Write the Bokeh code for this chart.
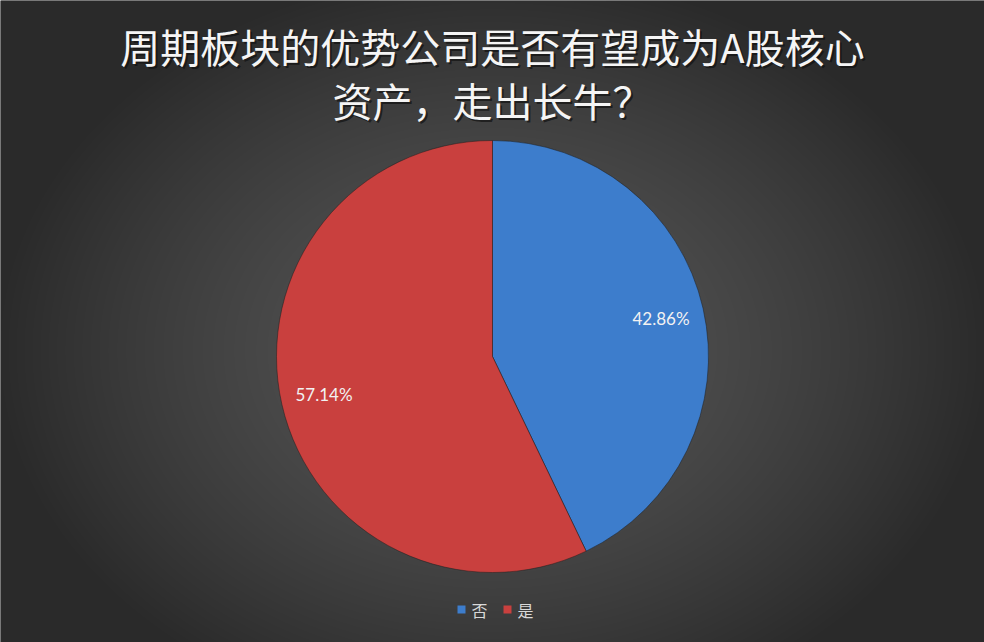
import numpy as np
from bokeh.plotting import figure
from bokeh.models import Range1d, ColumnDataSource
from bokeh.core.properties import value
from bokeh.embed import file_html
from bokeh.resources import INLINE

# ---- data ----
title_lines = ["周期板块的优势公司是否有望成为A股核心", "资产，走出长牛？"]
categories = ["否", "是"]
shares = [42.86, 57.14]
labels = ["42.86%", "57.14%"]
colors = ["#3d7dcc", "#c9403e"]

W, H = 984, 642


def Y(ref_y):
    return H - ref_y


p = figure(width=W, height=H, output_backend="svg", toolbar_location=None,
           x_range=Range1d(0, W), y_range=Range1d(0, H),
           min_border=0, border_fill_color="#2b2b2b", background_fill_color="#2b2b2b")
p.axis.visible = False
p.grid.visible = False
p.outline_line_color = None

# radial background gradient (styling only)
gx = np.arange(W) + 0.5
rows_ref = H - (np.arange(H) + 0.5)
GX, GY = np.meshgrid(gx, rows_ref)
d = np.sqrt((GX - 492.0) ** 2 + ((GY - 350.0) * 1.3) ** 2)
t = np.clip(d / 500.0, 0, 1) ** 1.5
L = (85 - 43 * t).astype(np.uint32)
img = ((255 << 24) | (L << 16) | (L << 8) | L).astype(np.uint32)
p.image_rgba(image=[img], x=0, y=0, dw=W, dh=H)

# pie
cx, cy, R = 492, Y(356), 216
frac = np.array(shares) / sum(shares)
cum = np.concatenate([[0], np.cumsum(frac)])
start = np.pi / 2 - 2 * np.pi * cum[:-1]
end = np.pi / 2 - 2 * np.pi * cum[1:]
src = ColumnDataSource(dict(start=start, end=end, color=colors, cat=categories))
p.wedge(x=cx, y=cy, radius=R, start_angle="start", end_angle="end", direction="clock",
        fill_color="color", line_color="#1e1e1e", line_alpha=0.5, line_width=1, source=src)

mid = (start + end) / 2
lr = 0.80 * R
p.text(x=cx + lr * np.cos(mid), y=cy + lr * np.sin(mid), text=labels,
       text_font=value("Lato"), text_font_size="17px", text_color="#f2f2f2",
       text_align="center", text_baseline="middle")

# title with shadow
ty = [Y(45), Y(99)]
p.text(x=[494, 494], y=[v - 2 for v in ty], text=title_lines, text_font=value("Noto Sans CJK SC"),
       text_font_size="40px", text_color="#111111", text_alpha=0.7,
       text_align="center", text_baseline="middle")
p.text(x=[492, 492], y=ty, text=title_lines, text_font=value("Noto Sans CJK SC"),
       text_font_size="40px", text_color="#f5f5f5",
       text_align="center", text_baseline="middle")

# legend
lx = [461 + 46 * i for i in range(len(categories))]
p.scatter(x=lx, y=[Y(609)] * len(categories), marker="square", size=8,
          fill_color=colors, line_color=None)
p.text(x=[v + 10 for v in lx], y=[Y(609)] * len(categories), text=categories,
       text_font=value("Noto Sans CJK SC"), text_font_size="16px", text_color="#d9d9d9",
       text_align="left", text_baseline="middle")

open("out.html", "w").write(file_html(p, INLINE))
